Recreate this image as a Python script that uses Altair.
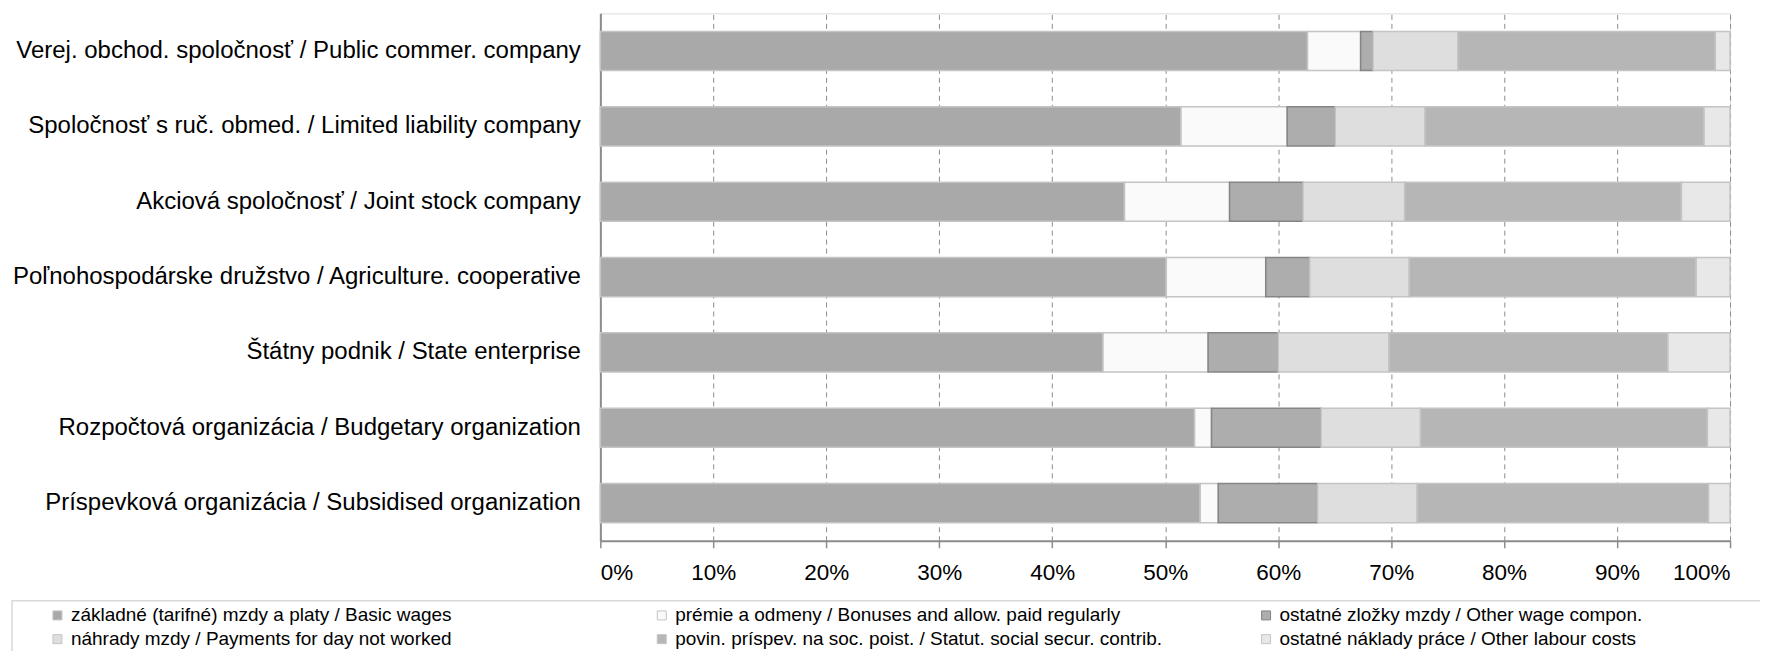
import altair as alt
import pandas as pd

categories = [
    "Verej. obchod. spoločnosť / Public commer. company",
    "Spoločnosť s ruč. obmed. / Limited liability company",
    "Akciová spoločnosť / Joint stock company",
    "Poľnohospodárske družstvo / Agriculture. cooperative",
    "Štátny podnik / State enterprise",
    "Rozpočtová organizácia / Budgetary organization",
    "Príspevková organizácia / Subsidised organization",
]
series = [
    "základné (tarifné) mzdy a platy / Basic wages",
    "prémie a odmeny / Bonuses and allow. paid regularly",
    "ostatné zložky mzdy / Other wage compon.",
    "náhrady mzdy / Payments for day not worked",
    "povin. príspev. na soc. poist. / Statut. social secur. contrib.",
    "ostatné náklady práce / Other labour costs",
]
basic = [62.6, 51.4, 46.4, 50.1, 44.5, 52.6, 53.1]
bonus = [4.7, 9.4, 9.3, 8.8, 9.3, 1.5, 1.6]
other_wage = [1.1, 4.25, 6.5, 3.9, 6.2, 9.7, 8.8]
nahrady = [7.5, 7.95, 9.0, 8.8, 9.8, 8.8, 8.8]
povin = [22.8, 24.7, 24.5, 25.4, 24.7, 25.4, 25.8]
other_labour = [1.3, 2.3, 4.3, 3.0, 5.5, 2.0, 1.9]

fills = ["#a9a9a9", "#fafafa", "#adadad", "#dedede", "#b6b6b6", "#e8e8e8"]
strokes = ["#c4c4c4", "#c4c4c4", "#858585", "#c4c4c4", "#c4c4c4", "#c4c4c4"]

values = [basic, bonus, other_wage, nahrady, povin, other_labour]
rows = []
for si, (s, vals) in enumerate(zip(series, values)):
    for c, v in zip(categories, vals):
        rows.append({"category": c, "series": s, "value": v, "order": si})
df = pd.DataFrame(rows)

FONT = "Liberation Sans"

bars = alt.Chart(df).mark_bar(strokeWidth=1.5).encode(
    x=alt.X("value:Q", stack="normalize",
            scale=alt.Scale(domain=[0, 1], nice=False),
            axis=alt.Axis(format="%", values=[i / 10 for i in range(11)],
                          title=None, grid=True, gridDash=[5, 4],
                          gridColor="#8c8c8c", gridWidth=1,
                          domainColor="#8c8c8c", domainWidth=2,
                          tickColor="#8c8c8c", tickSize=7, tickWidth=1.5,
                          labelFont=FONT, labelFontSize=22.5, labelColor="#000",
                          labelPadding=14)),
    y=alt.Y("category:N", sort=categories,
            scale=alt.Scale(paddingInner=0.48, paddingOuter=0.24),
            axis=alt.Axis(title=None, ticks=False, domainColor="#8c8c8c",
                          domainWidth=2, labelFont=FONT, labelFontSize=24,
                          labelColor="#000", labelPadding=20, labelLimit=700)),
    color=alt.Color("series:N", sort=series,
                    scale=alt.Scale(domain=series, range=fills),
                    legend=alt.Legend(title=None, orient="none", legendX=-553,
                                      legendY=593, columns=3, direction="horizontal",
                                      gridAlign="all",
                                      columnPadding=94, rowPadding=4,
                                      symbolType="square", symbolSize=81,
                                      symbolStrokeColor="#8c8c8c",
                                      symbolStrokeWidth=1, labelFont=FONT,
                                      labelFontSize=19, labelColor="#000",
                                      labelLimit=700, labelOffset=4)),
    stroke=alt.Stroke("series:N", scale=alt.Scale(domain=series, range=strokes),
                      legend=None),
    order=alt.Order("order:Q"),
)

frame = alt.Chart(pd.DataFrame({"a": [0]})).mark_rect(
    fill="transparent", stroke="#d9d9d9", strokeWidth=1.5
).encode(x=alt.value(-589), x2=alt.value(1200), y=alt.value(588), y2=alt.value(700))

chart = alt.layer(frame, bars).properties(
    width=1131, height=528,
    autosize=alt.AutoSizeParams(type="none"),
    padding={"left": 593, "top": 5, "right": 30, "bottom": 110},
).configure_view(stroke="#8c8c8c", strokeWidth=2).configure(background="white")

chart.save("out.html", embed_options={"renderer": "svg", "actions": False})
